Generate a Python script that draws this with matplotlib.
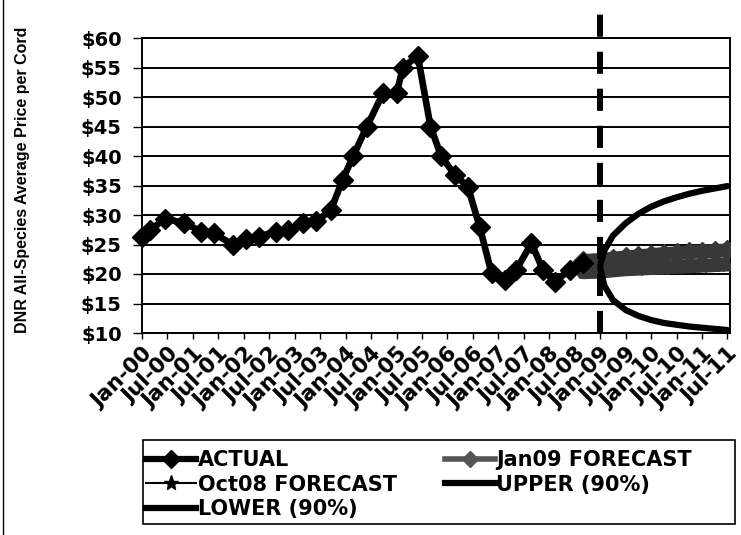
import matplotlib
matplotlib.use('Agg')
import matplotlib.pyplot as plt
from matplotlib.lines import Line2D
from matplotlib.patches import Rectangle

plt.rcParams['font.family'] = ['DejaVu Sans']
plt.rcParams['font.weight'] = 'bold'

# ---- data (x in months since Jan-2000) ----
tick_labels = ['Jan-00', 'Jul-00', 'Jan-01', 'Jul-01', 'Jan-02', 'Jul-02',
               'Jan-03', 'Jul-03', 'Jan-04', 'Jul-04', 'Jan-05', 'Jul-05',
               'Jan-06', 'Jul-06', 'Jan-07', 'Jul-07', 'Jan-08', 'Jul-08',
               'Jan-09', 'Jul-09', 'Jan-10', 'Jul-10', 'Jan-11', 'Jul-11']
tick_months = [0, 6, 12, 18, 24, 30, 36, 42, 48, 54, 60, 66,
               72, 78, 84, 90, 96, 102, 108, 114, 120, 126, 132, 138]

y_ticks = [10, 15, 20, 25, 30, 35, 40, 45, 50, 55, 60]
y_tick_labels = ['$10', '$15', '$20', '$25', '$30', '$35', '$40', '$45', '$50', '$55', '$60']

actual_month = [0, 2, 5.5, 10, 14, 17, 21.5, 24.5, 27.5, 31.5, 34.5, 38, 41,
                44.5, 47.3, 49.8, 53, 56.8, 60, 61.5, 65, 68, 70.5, 73.7,
                76.8, 79.6, 82.4, 85.5, 88.2, 91.8, 94.5, 97.3, 100.8, 103.9]
actual_price = [26.2, 27.5, 29.4, 28.6, 27.2, 26.9, 24.9, 26.0, 26.3, 27.2, 27.5,
                28.6, 28.9, 30.8, 36.0, 40.0, 45.0, 50.6, 50.6, 55.0, 57.0, 45.0,
                40.0, 36.8, 34.8, 28.0, 20.1, 19.0, 20.7, 25.2, 20.7, 18.7, 20.7, 21.8]

jan09_month = [104, 108, 111, 114, 117, 120, 123, 126, 129, 132, 135, 138]
jan09_price = [22.2, 22.4, 22.6, 22.8, 23.0, 23.2, 23.4, 23.5, 23.7, 23.8, 23.9, 24.0]

oct08_month = [104, 108, 111, 114, 117, 120, 123, 126, 129, 132, 135, 138]
oct08_price = [20.3, 20.4, 20.6, 20.8, 20.9, 21.0, 21.1, 21.2, 21.3, 21.4, 21.5, 21.6]

upper_month = [108, 109, 111, 114, 117, 120, 123, 126, 129, 132, 135, 138]
upper_price = [21.5, 24.0, 26.5, 28.6, 30.2, 31.4, 32.3, 33.0, 33.6, 34.1, 34.5, 34.9]

lower_month = [108, 109, 111, 114, 117, 120, 123, 126, 129, 132, 135, 138]
lower_price = [21.0, 18.0, 15.6, 13.9, 12.9, 12.2, 11.7, 11.4, 11.1, 10.9, 10.7, 10.5]

forecast_start = 108

# ---- figure ----
W, H = 741, 535
fig = plt.figure(figsize=(W / 100, H / 100), dpi=100)
ax = fig.add_axes([142 / W, 1 - 333 / H, (730 - 142) / W, (333 - 38) / H])

ax.set_xlim(0, 138.6)
ax.set_ylim(10, 60)

for y in y_ticks:
    ax.axhline(y, color='black', lw=1.4, zorder=1)

band_col = '#383838'
ax.plot(oct08_month, oct08_price, color=band_col, lw=10, marker='*', ms=11,
        mec=band_col, mfc=band_col, solid_capstyle='round', zorder=3)
ax.plot(jan09_month, jan09_price, color=band_col, lw=10, marker='D', ms=10,
        mec=band_col, mfc=band_col, solid_capstyle='round', zorder=3)
ax.plot(upper_month, upper_price, color='black', lw=4.5, zorder=4,
        solid_capstyle='round')
ax.plot(lower_month, lower_price, color='black', lw=4.5, zorder=4,
        solid_capstyle='round')
ax.plot(actual_month, actual_price, color='black', lw=4.8, marker='D', ms=10,
        zorder=5, clip_on=False)

ax.plot([forecast_start, forecast_start], [10, 65], color='black', lw=4.3,
        dashes=(3.7, 2.5), clip_on=False, zorder=6)

ax.set_yticks(y_ticks)
ax.set_yticklabels(y_tick_labels, fontsize=14, fontweight='bold')
ax.set_xticks(tick_months)
ax.set_xticklabels(tick_labels, rotation=45, ha='right', va='top',
                   rotation_mode='anchor', fontsize=15.5, fontweight='bold')
ax.tick_params(axis='x', direction='out', length=4, width=1, pad=4)
ax.tick_params(axis='y', direction='out', length=6.5, width=1, pad=8)
for s in ax.spines.values():
    s.set_linewidth(1.4)
    s.set_color('black')

fig.text(23 / W, 1 - 180 / H, 'DNR All-Species Average Price per Cord',
         rotation=90, ha='center', va='center', fontsize=11.5, fontweight='bold',
         family=['Liberation Sans'])

fig.add_artist(Line2D([3 / W, 3 / W], [0, 1], color='black', lw=1,
                      transform=fig.transFigure))

# legend box
fig.add_artist(Rectangle((143 / W, 1 - 524 / H), (735 - 143) / W, (524 - 440) / H,
                         transform=fig.transFigure, fill=False,
                         edgecolor='black', lw=1.2))

handles = [
    Line2D([], [], color='black', lw=4.5, marker='D', ms=9),
    Line2D([], [], color='black', lw=1.5, marker='*', ms=11),
    Line2D([], [], color='black', lw=4.5),
    Line2D([], [], color='#555555', lw=4, marker='D', ms=8),
    Line2D([], [], color='black', lw=4.5),
]
labels = ['ACTUAL', 'Oct08 FORECAST', 'LOWER (90%)', 'Jan09 FORECAST', 'UPPER (90%)']
leg = fig.legend(handles, labels, loc='upper left',
                 bbox_to_anchor=(146 / W, 1 - 450 / H),
                 ncol=2, frameon=False, borderaxespad=0, borderpad=0,
                 handlelength=2.4, handletextpad=0.08, labelspacing=0.22,
                 columnspacing=2.3,
                 prop={'size': 15, 'weight': 'bold'})

fig.savefig('out.png', dpi=100)
